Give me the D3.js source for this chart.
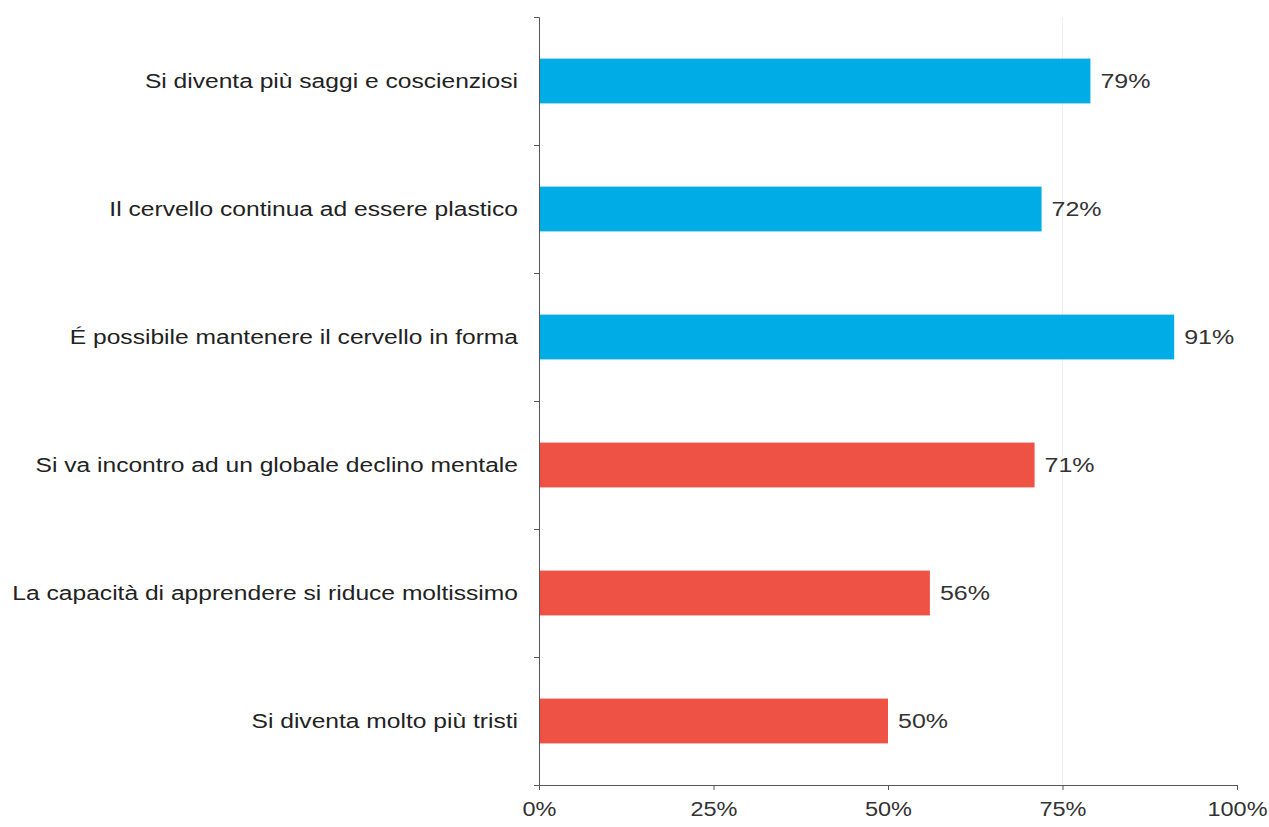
<!DOCTYPE html>
<html>
<head>
  <meta charset="utf-8">
  <script src="https://cdn.jsdelivr.net/npm/d3@7"></script>
  <style>
    body { margin: 0; background: #fff; }
    text { font-family: "Liberation Sans", Arial, sans-serif; }
  </style>
</head>
<body>
<script>
  // dati
  const categorie = [
    "Si diventa più saggi e coscienziosi",
    "Il cervello continua ad essere plastico",
    "É possibile mantenere il cervello in forma",
    "Si va incontro ad un globale declino mentale",
    "La capacità di apprendere si riduce moltissimo",
    "Si diventa molto più tristi"
  ];
  const valori = [79, 72, 91, 71, 56, 50];
  const gruppi = ["pos", "pos", "pos", "neg", "neg", "neg"];
  const tickX = [0, 25, 50, 75, 100];

  const W = 1269, H = 827;
  const m = { left: 539, right: 1237, top: 17, bottom: 785 };

  const svg = d3.select("body").append("svg")
    .attr("width", W).attr("height", H);

  const x = d3.scaleLinear().domain([0, 100]).range([m.left, m.right]);
  const y = d3.scaleBand().domain(categorie).range([m.top, m.bottom])
    .paddingInner(0.65).paddingOuter(0.325);

  const colore = d3.scaleOrdinal().domain(["pos", "neg"]).range(["#00ace6", "#ee5245"]);

  // griglia leggera a 75%
  svg.append("line")
    .attr("x1", x(75)).attr("x2", x(75))
    .attr("y1", m.top).attr("y2", m.bottom)
    .attr("stroke", "#eeeeee").attr("stroke-width", 1);

  // barre
  svg.selectAll("rect.bar")
    .data(categorie)
    .enter()
    .append("rect")
    .attr("class", "bar")
    .attr("x", x(0))
    .attr("y", d => y(d))
    .attr("width", (d, i) => x(valori[i]) - x(0))
    .attr("height", y.bandwidth())
    .attr("fill", (d, i) => colore(gruppi[i]));

  // etichette valori (il testo originale e' un po' allargato)
  svg.selectAll("text.val")
    .data(categorie)
    .enter()
    .append("text")
    .attr("class", "val")
    .attr("transform", (d, i) =>
      `translate(${x(valori[i]) + 10},${y(d) + y.bandwidth() / 2}) scale(1.25,1)`)
    .attr("dy", "0.35em")
    .attr("font-size", 20)
    .attr("fill", "#333")
    .text((d, i) => valori[i] + "%");

  // asse y
  const yAxis = d3.axisLeft(d3.scaleLinear().domain([0, 6]).range([m.bottom, m.top]))
    .tickValues(d3.range(0, 7)).tickSize(5).tickFormat("");
  const gy = svg.append("g").attr("transform", `translate(${m.left},0)`).call(yAxis);
  gy.select(".domain").attr("stroke", "#555");
  gy.selectAll(".tick line").attr("stroke", "#555");

  // etichette categorie
  svg.selectAll("text.cat")
    .data(categorie)
    .enter()
    .append("text")
    .attr("class", "cat")
    .attr("transform", d =>
      `translate(${m.left - 21},${y(d) + y.bandwidth() / 2}) scale(1.23,1)`)
    .attr("dy", "0.35em")
    .attr("text-anchor", "end")
    .attr("font-size", 20)
    .attr("fill", "#222")
    .text(d => d);

  // asse x
  const xAxis = d3.axisBottom(x).tickValues(tickX).tickSize(5)
    .tickFormat(d => d + "%");
  const gx = svg.append("g").attr("transform", `translate(0,${m.bottom})`).call(xAxis);
  gx.select(".domain").attr("stroke", "#555");
  gx.selectAll(".tick line").attr("stroke", "#555");
  gx.selectAll(".tick text")
    .attr("font-size", 21)
    .attr("fill", "#333")
    .attr("dy", "1.1em")
    .attr("transform", "scale(1.12,1)");
</script>
</body>
</html>
